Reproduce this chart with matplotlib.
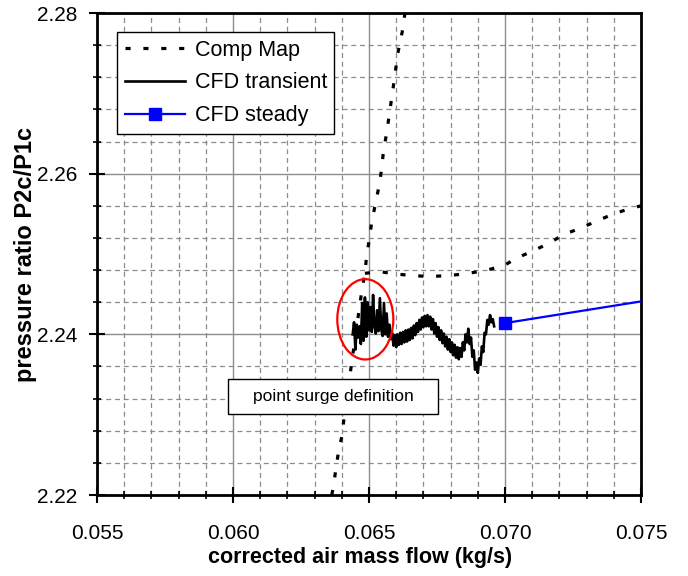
import matplotlib
matplotlib.use("Agg")
import matplotlib.pyplot as plt
from matplotlib.patches import Ellipse, Rectangle
from matplotlib.ticker import MultipleLocator, FormatStrFormatter

plt.rcParams['font.family'] = ['Liberation Sans', 'DejaVu Sans']

# compressor map: surge-side branch (steep) and speed line (flat part)
map_surge_x = [0.06363, 0.06369, 0.06378, 0.06387, 0.06400, 0.06408, 0.06436,
               0.06473, 0.06485, 0.06491, 0.06501, 0.06510, 0.06524, 0.06537,
               0.06547, 0.06553, 0.06565, 0.06579, 0.06593, 0.06606, 0.06626, 0.06632]
map_surge_y = [2.2200, 2.2210, 2.2232, 2.2252, 2.2273, 2.2295, 2.2364,
               2.2453, 2.2476, 2.2497, 2.2518, 2.2540, 2.2563, 2.2585,
               2.2607, 2.2628, 2.2651, 2.2684, 2.2717, 2.2750, 2.2783, 2.2800]
map_speed_x = [0.06485, 0.06540, 0.06602, 0.06665, 0.06724, 0.06785, 0.06846,
               0.06920, 0.06993, 0.07043, 0.07104, 0.07165, 0.07214, 0.07276,
               0.07337, 0.07392, 0.07453, 0.07500]
map_speed_y = [2.2476, 2.2478, 2.2475, 2.2473, 2.2472, 2.2473, 2.2475,
               2.2479, 2.2485, 2.2495, 2.2504, 2.2514, 2.2524, 2.2532,
               2.2541, 2.2549, 2.2556, 2.2560]

# CFD transient run (mass flow / pressure ratio history)
trans_x = [0.06440, 0.06445, 0.06450, 0.06455, 0.06460, 0.06465, 0.06470, 0.06475,
           0.06480, 0.06485, 0.06490, 0.06495, 0.06500, 0.06505, 0.06510, 0.06515,
           0.06520, 0.06525, 0.06530, 0.06535, 0.06540, 0.06545, 0.06550, 0.06555,
           0.06560, 0.06565, 0.06570, 0.06575, 0.06580, 0.06585, 0.06590, 0.06595,
           0.06600, 0.06605, 0.06610, 0.06615, 0.06620, 0.06625, 0.06630, 0.06635,
           0.06640, 0.06645, 0.06650, 0.06655, 0.06660, 0.06665, 0.06670, 0.06675,
           0.06680, 0.06685, 0.06690, 0.06695, 0.06700, 0.06705, 0.06710, 0.06715,
           0.06720, 0.06725, 0.06730, 0.06735, 0.06740, 0.06745, 0.06750, 0.06755,
           0.06760, 0.06765, 0.06770, 0.06775, 0.06780, 0.06785, 0.06790, 0.06795,
           0.06800, 0.06805, 0.06810, 0.06815, 0.06820, 0.06825, 0.06830, 0.06835,
           0.06840, 0.06845, 0.06850, 0.06855, 0.06860, 0.06865, 0.06870, 0.06875,
           0.06880, 0.06885, 0.06890, 0.06895, 0.06900, 0.06905, 0.06910, 0.06915,
           0.06920, 0.06925, 0.06930, 0.06935, 0.06940, 0.06945, 0.06950, 0.06955,
           0.06960]
trans_y = [2.2400, 2.2415, 2.2381, 2.2412, 2.2396, 2.2410, 2.2388, 2.2439,
           2.2392, 2.2446, 2.2397, 2.2440, 2.2405, 2.2434, 2.2403, 2.2449,
           2.2410, 2.2401, 2.2430, 2.2404, 2.2445, 2.2406, 2.2398, 2.2439,
           2.2400, 2.2426, 2.2397, 2.2412, 2.2394, 2.2402, 2.2386, 2.2399,
           2.2384, 2.2400, 2.2387, 2.2402, 2.2388, 2.2403, 2.2390, 2.2405,
           2.2391, 2.2406, 2.2393, 2.2408, 2.2395, 2.2411, 2.2399, 2.2414,
           2.2403, 2.2418, 2.2406, 2.2421, 2.2409, 2.2423, 2.2410, 2.2424,
           2.2410, 2.2422, 2.2406, 2.2419, 2.2401, 2.2414, 2.2397, 2.2409,
           2.2393, 2.2405, 2.2389, 2.2401, 2.2385, 2.2397, 2.2381, 2.2394,
           2.2378, 2.2390, 2.2374, 2.2387, 2.2371, 2.2384, 2.2369, 2.2383,
           2.2372, 2.2390, 2.2380, 2.2400, 2.2390, 2.2407, 2.2388, 2.2396,
           2.2372, 2.2380, 2.2356, 2.2365, 2.2352, 2.2370, 2.2362, 2.2385,
           2.2378, 2.2402, 2.2400, 2.2418, 2.2412, 2.2424, 2.2415, 2.2419,
           2.2410]

# CFD steady operating point and its continuation
steady_x = [0.0700, 0.0750]
steady_y = [2.2414, 2.2441]

# surge point marker (ellipse centre / size in data units)
surge_xy = (0.064864, 2.24187)
surge_w, surge_h = 0.00206, 0.0100

fig = plt.figure(figsize=(6.88, 5.76), dpi=100)
ax = fig.add_axes([0.141, 0.1406, 0.7907, 0.8368])

dots = (0, (1.6, 4.0))
ax.plot(map_surge_x, map_surge_y, color='black', lw=2.3, linestyle=dots,
        dash_capstyle='butt', label='Comp Map', zorder=3)
ax.plot(map_speed_x, map_speed_y, color='black', lw=2.3, linestyle=dots,
        dash_capstyle='butt', zorder=3)
ax.plot(trans_x, trans_y, color='black', lw=1.9, label='CFD transient', zorder=4)
ax.plot(steady_x, steady_y, color='#0000ff', lw=1.6, marker='s', markersize=9,
        markevery=[0], label='CFD steady', zorder=5)

ax.add_patch(Ellipse(surge_xy, surge_w, surge_h, fill=False, edgecolor='#ff0000',
                     lw=1.6, zorder=6))

# annotation box
ax.add_patch(Rectangle((0.2408, 0.168), 0.386, 0.0726, transform=ax.transAxes,
                       facecolor='white', edgecolor='black', lw=1.0, zorder=7))
ax.text(0.434, 0.2044, 'point surge definition', transform=ax.transAxes,
        ha='center', va='center', fontsize=12.5, zorder=8)

ax.set_xlim(0.055, 0.075)
ax.set_ylim(2.22, 2.28)
ax.xaxis.set_major_locator(MultipleLocator(0.005))
ax.xaxis.set_minor_locator(MultipleLocator(0.001))
ax.yaxis.set_major_locator(MultipleLocator(0.02))
ax.yaxis.set_minor_locator(MultipleLocator(0.004))
ax.xaxis.set_major_formatter(FormatStrFormatter('%.3f'))
ax.yaxis.set_major_formatter(FormatStrFormatter('%.2f'))

ax.set_axisbelow(True)
ax.grid(which='major', color='#8c8c8c', lw=1.0, linestyle='-')
ax.grid(which='minor', color='#8c8c8c', lw=0.9, linestyle=(0, (4, 3)))

ax.tick_params(which='major', direction='inout', length=12, width=1.5,
               labelsize=15)
ax.tick_params(which='minor', direction='inout', length=6, width=1.2)
ax.tick_params(axis='x', which='major', pad=15)
ax.tick_params(axis='y', which='major', pad=8)
for side in ax.spines.values():
    side.set_linewidth(2.0)
    side.set_color('black')

ax.set_xlabel('corrected air mass flow (kg/s)', fontsize=15.5, fontweight='bold')
ax.xaxis.set_label_coords(0.484, -0.107)
ax.set_ylabel('pressure ratio P2c/P1c', fontsize=17, fontweight='bold',
              labelpad=0)

leg = ax.legend(loc='upper left', bbox_to_anchor=(0.0368, 0.9606),
                borderaxespad=0, fontsize=15.5, frameon=True, fancybox=False,
                framealpha=1, edgecolor='black', handlelength=2.8,
                handletextpad=0.45, borderpad=0.35, labelspacing=0.55)
leg.get_frame().set_linewidth(1.0)
leg.set_zorder(9)

fig.savefig('out.png', dpi=100)
